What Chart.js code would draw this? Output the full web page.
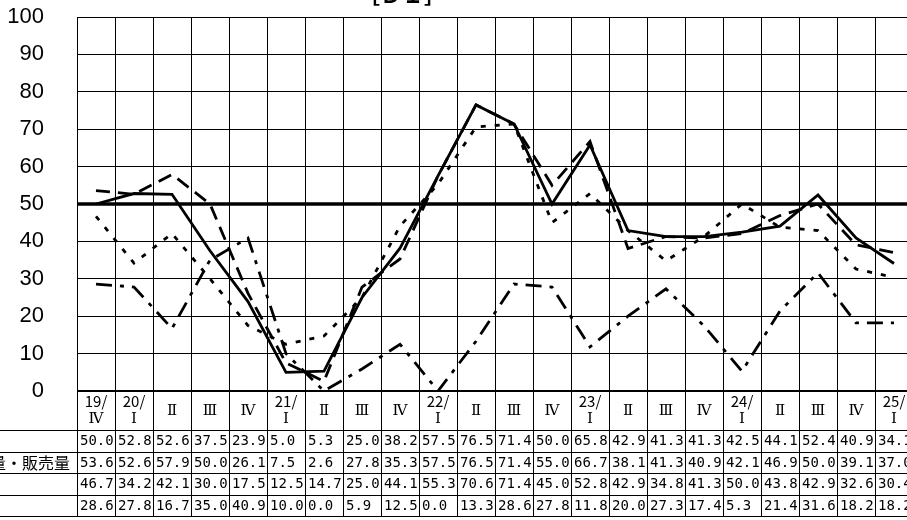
<!DOCTYPE html>
<html lang="ja">
<head>
<meta charset="UTF-8">
<title>DI</title>
<script src="https://cdn.jsdelivr.net/npm/chart.js"></script>
<style>
  html, body { margin: 0; padding: 0; background: #fff; overflow: hidden; }
  #wrap { width: 920px; height: 520px; }
</style>
</head>
<body>
<div id="wrap"><canvas id="diChart" width="920" height="520"></canvas></div>
<script>
// quarters (year/quarter), two lines where the year changes
const categories = [
  ["19/", "Ⅳ"], ["20/", "Ⅰ"], ["Ⅱ"], ["Ⅲ"], ["Ⅳ"],
  ["21/", "Ⅰ"], ["Ⅱ"], ["Ⅲ"], ["Ⅳ"],
  ["22/", "Ⅰ"], ["Ⅱ"], ["Ⅲ"], ["Ⅳ"],
  ["23/", "Ⅰ"], ["Ⅱ"], ["Ⅲ"], ["Ⅳ"],
  ["24/", "Ⅰ"], ["Ⅱ"], ["Ⅲ"], ["Ⅳ"],
  ["25/", "Ⅰ"]
];

const seriesNames = ["業況", "生産量・販売量", "受注", "設備"];

const gyokyo  = [50.0, 52.8, 52.6, 37.5, 23.9, 5.0, 5.3, 25.0, 38.2, 57.5, 76.5, 71.4, 50.0, 65.8, 42.9, 41.3, 41.3, 42.5, 44.1, 52.4, 40.9, 34.1];
const hanbai  = [53.6, 52.6, 57.9, 50.0, 26.1, 7.5, 2.6, 27.8, 35.3, 57.5, 76.5, 71.4, 55.0, 66.7, 38.1, 41.3, 40.9, 42.1, 46.9, 50.0, 39.1, 37.0];
const juchu   = [46.7, 34.2, 42.1, 30.0, 17.5, 12.5, 14.7, 25.0, 44.1, 55.3, 70.6, 71.4, 45.0, 52.8, 42.9, 34.8, 41.3, 50.0, 43.8, 42.9, 32.6, 30.4];
const setsubi = [28.6, 27.8, 16.7, 35.0, 40.9, 10.0, 0.0, 5.9, 12.5, 0.0, 13.3, 28.6, 27.8, 11.8, 20.0, 27.3, 17.4, 5.3, 21.4, 31.6, 18.2, 18.2];

const yTicks = [0, 10, 20, 30, 40, 50, 60, 70, 80, 90, 100];
const baseLine = 50;
const chartTitle = "［ＤＩ］";

const tableRows = [gyokyo, hanbai, juchu, setsubi];

// 50 line + data table under the plot
const tablePlugin = {
  id: "diTable",
  beforeDatasetsDraw(chart) {
    const { ctx, chartArea, scales: { y } } = chart;
    const py = y.getPixelForValue(baseLine);
    ctx.save();
    ctx.strokeStyle = "#000";
    ctx.lineWidth = 3.5;
    ctx.beginPath();
    ctx.moveTo(chartArea.left, py);
    ctx.lineTo(chartArea.right, py);
    ctx.stroke();
    ctx.restore();
  },
  afterDraw(chart) {
    const { ctx, chartArea, scales: { x } } = chart;
    const colW = x.getPixelForValue(1) - x.getPixelForValue(0);
    const top = chartArea.bottom;
    const catBottom = top + 39;
    const rowH = 21.5;
    const tableBottom = catBottom + rowH * tableRows.length;
    const right = chart.width;

    ctx.save();
    ctx.strokeStyle = "#000";
    ctx.lineWidth = 1;

    // column separators
    for (let i = 0; i <= categories.length; i++) {
      const px = Math.round(x.getPixelForValue(i) - colW / 2) + 0.5;
      ctx.beginPath();
      ctx.moveTo(px, top);
      ctx.lineTo(px, tableBottom);
      ctx.stroke();
    }

    // row lines
    for (let r = 0; r <= tableRows.length; r++) {
      const py = Math.round(catBottom + rowH * r) + 0.5;
      ctx.beginPath();
      ctx.moveTo(0, py);
      ctx.lineTo(right, py);
      ctx.stroke();
    }

    ctx.lineWidth = 2;
    ctx.beginPath();
    ctx.moveTo(chartArea.left, top);
    ctx.lineTo(right, top);
    ctx.stroke();

    // quarter labels
    ctx.fillStyle = "#000";
    ctx.textAlign = "center";
    ctx.textBaseline = "middle";
    categories.forEach((lab, i) => {
      const cx = x.getPixelForValue(i);
      if (lab.length === 2) {
        ctx.font = "15px 'Noto Sans CJK JP', sans-serif";
        ctx.fillText(lab[0], cx, top + 10);
        ctx.font = "15px 'DejaVu Serif', 'Noto Sans CJK JP', serif";
        ctx.fillText(lab[1], cx, top + 28);
      } else {
        ctx.font = "15px 'DejaVu Serif', 'Noto Sans CJK JP', serif";
        ctx.fillText(lab[0], cx, top + 20);
      }
    });

    // values
    ctx.textAlign = "left";
    ctx.font = "14px 'DejaVu Sans Mono', monospace";
    tableRows.forEach((vals, r) => {
      const cy = catBottom + rowH * (r + 0.5) + 1;
      vals.forEach((v, i) => {
        const left = x.getPixelForValue(i) - colW / 2;
        ctx.fillText(v.toFixed(1), left + 3, cy);
      });
    });

    // row names (column is cut on the left)
    ctx.font = "16px 'Noto Sans CJK JP', sans-serif";
    seriesNames.forEach((name, r) => {
      ctx.fillText(name, -42, catBottom + rowH * (r + 0.5) + 1);
    });

    // title, mostly above the page
    ctx.font = "bold 22px 'Noto Sans CJK JP', sans-serif";
    ctx.textAlign = "right";
    ctx.textBaseline = "alphabetic";
    ctx.fillText(chartTitle, 446, 3);

    ctx.restore();
  }
};

const ctx = document.getElementById("diChart").getContext("2d");
const diChart = new Chart(ctx, {
  type: "line",
  data: {
    labels: categories,
    datasets: [
      { label: seriesNames[0], data: gyokyo, borderDash: [] },
      { label: seriesNames[1], data: hanbai, borderDash: [14, 8] },
      { label: seriesNames[2], data: juchu, borderDash: [5, 9] },
      { label: seriesNames[3], data: setsubi, borderDash: [16, 8, 4, 8] }
    ].map(ds => ({
      ...ds,
      borderColor: "#000",
      borderWidth: 2.8,
      pointRadius: 0,
      tension: 0,
      fill: false
    }))
  },
  options: {
    responsive: false,
    animation: false,
    devicePixelRatio: 1,
    layout: { padding: { top: 17, right: 7, bottom: 129, left: 0 } },
    plugins: {
      legend: { display: false },
      title: { display: false },
      tooltip: { enabled: false }
    },
    scales: {
      x: {
        offset: true,
        afterFit: s => { s.height = 0; },
        ticks: { display: false },
        grid: { offset: true, color: "#000", lineWidth: 1, drawTicks: false },
        border: { display: false }
      },
      y: {
        min: 0,
        max: 100,
        afterFit: s => {
          s.width = 77;
          s.paddingTop = 0;
          s.paddingBottom = 0;
        },
        afterBuildTicks: s => { s.ticks = yTicks.map(v => ({ value: v })); },
        ticks: {
          autoSkip: false,
          padding: 33,
          color: "#000",
          font: { family: "'Liberation Sans', Arial, sans-serif", size: 22 }
        },
        grid: { color: "#000", lineWidth: 1, drawTicks: false },
        border: { color: "#000", width: 1 }
      }
    }
  },
  plugins: [tablePlugin]
});
</script>
</body>
</html>
